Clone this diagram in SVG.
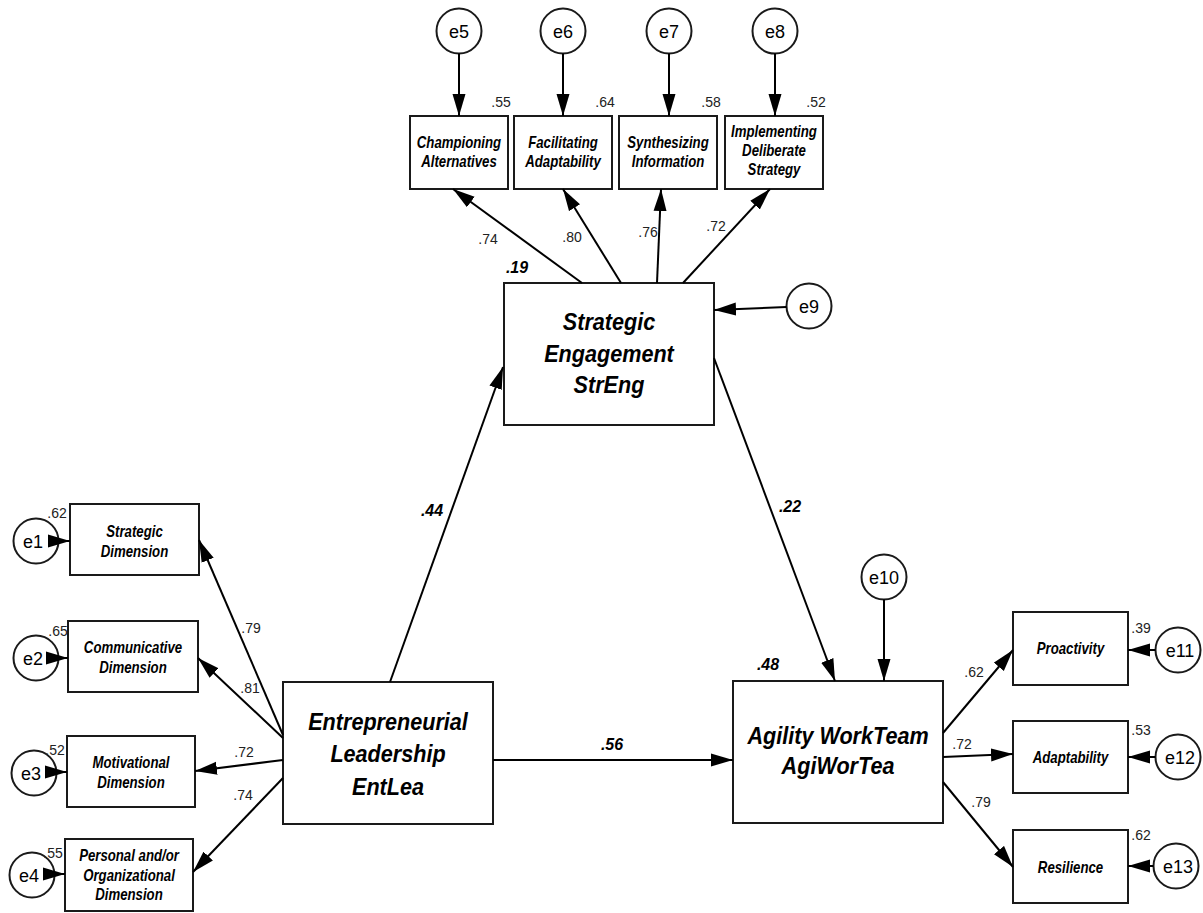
<svg xmlns="http://www.w3.org/2000/svg" width="1203" height="913" viewBox="0 0 1203 913">
<style>
.box{fill:#fff;stroke:#1a1a1a;stroke-width:2}
.err{fill:#fff;stroke:#1a1a1a;stroke-width:2}
.ln{fill:none;stroke:#000;stroke-width:2;marker-end:url(#ah)}
.big{font-family:"Liberation Sans",Arial,sans-serif;font-size:24px;font-weight:bold;font-style:italic;text-anchor:middle;fill:#000}
.sm{font-family:"Liberation Sans",Arial,sans-serif;font-size:16.5px;font-weight:bold;font-style:italic;text-anchor:middle;fill:#000}
.et{font-family:"Liberation Sans",Arial,sans-serif;font-size:18px;text-anchor:middle;fill:#000}
.num{font-family:"Liberation Sans",Arial,sans-serif;font-size:14px;text-anchor:middle;fill:#222}
.coef{font-family:"Liberation Sans",Arial,sans-serif;font-size:16px;font-weight:bold;font-style:italic;text-anchor:middle;fill:#000}
</style>
<defs>
<marker id="ah" markerUnits="userSpaceOnUse" markerWidth="22" markerHeight="14" refX="22" refY="7" orient="auto">
<path d="M0,0.5 L22,7 L0,13.5 Z" fill="#000"/>
</marker>
</defs>
<rect width="1203" height="913" fill="#fff"/>

<g id="EntLea">
<rect class="box" x="283" y="682" width="210" height="142"/>
<text class="big" transform="translate(388,730) scale(0.9,1)">Entrepreneurial</text>
<text class="big" transform="translate(388,762) scale(0.9,1)">Leadership</text>
<text class="big" transform="translate(388,795) scale(0.9,1)">EntLea</text>
</g>
<g id="StrEng">
<rect class="box" x="504" y="283" width="210" height="142"/>
<text class="big" transform="translate(609,330) scale(0.9,1)">Strategic</text>
<text class="big" transform="translate(609,362) scale(0.9,1)">Engagement</text>
<text class="big" transform="translate(609,393) scale(0.9,1)">StrEng</text>
</g>
<g id="AgiWorTea">
<rect class="box" x="733" y="681" width="210" height="142"/>
<text class="big" transform="translate(838,744) scale(0.9,1)">Agility WorkTeam</text>
<text class="big" transform="translate(838,774) scale(0.9,1)">AgiWorTea</text>
</g>

<g id="Championing">
<rect class="box" x="410" y="116" width="98" height="73"/>
<text class="sm" transform="translate(459,148) scale(0.8,1)">Championing</text>
<text class="sm" transform="translate(459,167) scale(0.8,1)">Alternatives</text>
</g>
<g id="Facilitating">
<rect class="box" x="514" y="116" width="98" height="73"/>
<text class="sm" transform="translate(563,148) scale(0.8,1)">Facilitating</text>
<text class="sm" transform="translate(563,167) scale(0.8,1)">Adaptability</text>
</g>
<g id="Synthesizing">
<rect class="box" x="619" y="116" width="98" height="73"/>
<text class="sm" transform="translate(668,148) scale(0.8,1)">Synthesizing</text>
<text class="sm" transform="translate(668,167) scale(0.8,1)">Information</text>
</g>
<g id="Implementing">
<rect class="box" x="725" y="116" width="98" height="73"/>
<text class="sm" transform="translate(774,137) scale(0.8,1)">Implementing</text>
<text class="sm" transform="translate(774,156) scale(0.8,1)">Deliberate</text>
<text class="sm" transform="translate(774,175) scale(0.8,1)">Strategy</text>
</g>

<g id="StrategicDim">
<rect class="box" x="70" y="504" width="129" height="71"/>
<text class="sm" transform="translate(134.5,537) scale(0.8,1)">Strategic</text>
<text class="sm" transform="translate(134.5,557) scale(0.8,1)">Dimension</text>
</g>
<g id="CommunicativeDim">
<rect class="box" x="68" y="621" width="130" height="71"/>
<text class="sm" transform="translate(133,653) scale(0.8,1)">Communicative</text>
<text class="sm" transform="translate(133,673) scale(0.8,1)">Dimension</text>
</g>
<g id="MotivationalDim">
<rect class="box" x="67" y="736" width="128" height="71"/>
<text class="sm" transform="translate(131,768) scale(0.8,1)">Motivational</text>
<text class="sm" transform="translate(131,788) scale(0.8,1)">Dimension</text>
</g>
<g id="PersonalDim">
<rect class="box" x="65" y="839" width="128" height="72"/>
<text class="sm" transform="translate(129,861) scale(0.8,1)">Personal and/or</text>
<text class="sm" transform="translate(129,881) scale(0.8,1)">Organizational</text>
<text class="sm" transform="translate(129,900) scale(0.8,1)">Dimension</text>
</g>

<g id="Proactivity">
<rect class="box" x="1013" y="612" width="115" height="73"/>
<text class="sm" transform="translate(1070.5,654) scale(0.8,1)">Proactivity</text>
</g>
<g id="Adaptability">
<rect class="box" x="1013" y="721" width="115" height="72"/>
<text class="sm" transform="translate(1070.5,763) scale(0.8,1)">Adaptability</text>
</g>
<g id="Resilience">
<rect class="box" x="1013" y="830" width="115" height="73"/>
<text class="sm" transform="translate(1070.5,873) scale(0.8,1)">Resilience</text>
</g>

<g id="e1"><circle class="err" cx="36" cy="541" r="22.5"/><text class="et" x="33" y="547.5">e1</text></g>
<g id="e2"><circle class="err" cx="36" cy="658" r="22.5"/><text class="et" x="33" y="664.5">e2</text></g>
<g id="e3"><circle class="err" cx="34" cy="773" r="22.5"/><text class="et" x="31" y="779.5">e3</text></g>
<g id="e4"><circle class="err" cx="32" cy="875" r="22.5"/><text class="et" x="29" y="881.5">e4</text></g>
<g id="e5"><circle class="err" cx="459" cy="31" r="22.5"/><text class="et" x="459" y="37.5">e5</text></g>
<g id="e6"><circle class="err" cx="563" cy="31" r="22.5"/><text class="et" x="563" y="37.5">e6</text></g>
<g id="e7"><circle class="err" cx="669" cy="31" r="22.5"/><text class="et" x="669" y="37.5">e7</text></g>
<g id="e8"><circle class="err" cx="775" cy="31" r="22.5"/><text class="et" x="775" y="37.5">e8</text></g>
<g id="e9"><circle class="err" cx="809" cy="306" r="22.5"/><text class="et" x="809" y="312.5">e9</text></g>
<g id="e10"><circle class="err" cx="884" cy="577" r="22.5"/><text class="et" x="884" y="583.5">e10</text></g>
<g id="e11"><circle class="err" cx="1178" cy="650" r="22.5"/><text class="et" x="1180" y="656.5">e11</text></g>
<g id="e12"><circle class="err" cx="1178" cy="757" r="22.5"/><text class="et" x="1180" y="763.5">e12</text></g>
<g id="e13"><circle class="err" cx="1176" cy="866" r="22.5"/><text class="et" x="1178" y="872.5">e13</text></g>

<g id="connectors">
<line class="ln" x1="390" y1="682" x2="503" y2="367"/>
<line class="ln" x1="714" y1="358" x2="835" y2="681"/>
<line class="ln" x1="493" y1="760" x2="733" y2="760"/>
<line class="ln" x1="582" y1="283" x2="453" y2="189"/>
<line class="ln" x1="621" y1="283" x2="563" y2="189"/>
<line class="ln" x1="657" y1="283" x2="661" y2="189"/>
<line class="ln" x1="683" y1="283" x2="770" y2="189"/>
<line class="ln" x1="283" y1="735" x2="199" y2="540"/>
<line class="ln" x1="283" y1="738" x2="198" y2="658"/>
<line class="ln" x1="283" y1="760" x2="195" y2="771"/>
<line class="ln" x1="283" y1="778" x2="193" y2="872"/>
<line class="ln" x1="943" y1="733" x2="1013" y2="650"/>
<line class="ln" x1="943" y1="757" x2="1013" y2="754"/>
<line class="ln" x1="943" y1="782" x2="1013" y2="867"/>
<line class="ln" x1="58" y1="541" x2="70" y2="541"/>
<line class="ln" x1="58" y1="658" x2="68" y2="658"/>
<line class="ln" x1="56" y1="772" x2="67" y2="772"/>
<line class="ln" x1="54" y1="874" x2="65" y2="874"/>
<line class="ln" x1="459" y1="53.5" x2="459" y2="116"/>
<line class="ln" x1="563" y1="53.5" x2="563" y2="116"/>
<line class="ln" x1="669" y1="53.5" x2="669" y2="116"/>
<line class="ln" x1="775" y1="53.5" x2="775" y2="116"/>
<line class="ln" x1="786.5" y1="307" x2="714" y2="310"/>
<line class="ln" x1="884" y1="599.5" x2="884" y2="681"/>
<line class="ln" x1="1155.5" y1="650" x2="1128" y2="650"/>
<line class="ln" x1="1155.5" y1="757" x2="1128" y2="757"/>
<line class="ln" x1="1153.5" y1="866" x2="1128" y2="866"/>
</g>

<g id="labels">
<text class="coef" x="517" y="273">.19</text>
<text class="coef" x="432" y="516">.44</text>
<text class="coef" x="790" y="512">.22</text>
<text class="coef" x="612" y="750">.56</text>
<text class="coef" x="768" y="670">.48</text>
<text class="num" x="501" y="107">.55</text>
<text class="num" x="605" y="107">.64</text>
<text class="num" x="711" y="107">.58</text>
<text class="num" x="816" y="107">.52</text>
<text class="num" x="488" y="244">.74</text>
<text class="num" x="572" y="242">.80</text>
<text class="num" x="648" y="237">.76</text>
<text class="num" x="716" y="231">.72</text>
<text class="num" x="57" y="518">.62</text>
<text class="num" x="58" y="636">.65</text>
<text class="num" x="55" y="755">.52</text>
<text class="num" x="53" y="858">.55</text>
<text class="num" x="251" y="633">.79</text>
<text class="num" x="250" y="693">.81</text>
<text class="num" x="244" y="757">.72</text>
<text class="num" x="243" y="800">.74</text>
<text class="num" x="1141" y="633">.39</text>
<text class="num" x="1141" y="735">.53</text>
<text class="num" x="1141" y="840">.62</text>
<text class="num" x="974" y="677">.62</text>
<text class="num" x="962" y="749">.72</text>
<text class="num" x="981" y="807">.79</text>
</g>
</svg>
